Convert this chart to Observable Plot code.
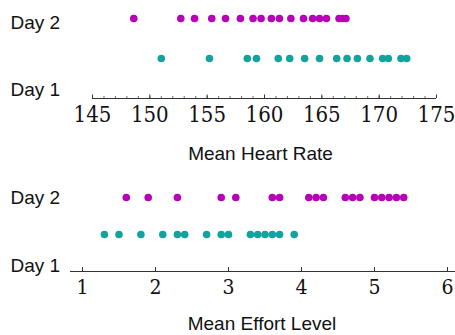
<!DOCTYPE html>
<html>
<head>
<meta charset="utf-8">
<script src="https://cdn.jsdelivr.net/npm/d3@7"></script>
<script src="https://cdn.jsdelivr.net/npm/@observablehq/plot@0.6"></script>
<style>
  html, body { margin: 0; padding: 0; background: #fff; }
  #chart svg { display: block; }
  #chart svg.num-plot text { font-stretch: condensed; }
</style>
</head>
<body>
<div id="chart"></div>
<script>
const days = ["Day 1", "Day 2"];
const hrDay1 = [151.0, 155.2, 158.5, 159.3, 161.2, 162.2, 163.5, 164.8, 166.3, 167.2, 168.1, 169.2, 170.3, 170.8, 171.9, 172.4];
const hrDay2 = [148.6, 152.7, 153.9, 155.4, 156.6, 157.9, 159.0, 159.7, 160.6, 161.3, 162.3, 163.4, 164.2, 164.8, 165.4, 166.5, 166.8, 167.1];
const effDay1 = [1.3, 1.5, 1.8, 2.1, 2.3, 2.4, 2.7, 2.9, 3.0, 3.3, 3.4, 3.5, 3.6, 3.7, 3.9];
const effDay2 = [1.6, 1.9, 2.3, 2.9, 3.1, 3.6, 3.7, 4.1, 4.2, 4.3, 4.6, 4.7, 4.8, 5.0, 5.1, 5.2, 5.3, 5.4];
const hrMajorTicks = [145, 150, 155, 160, 165, 170, 175];
const hrMinorTicks = d3.range(145, 176, 1);
const effTicks = [1, 2, 3, 4, 5, 6];
const titles = ["Mean Heart Rate", "Mean Effort Level"];

const C2 = "#b800b8";
const C1 = "#14a29e";
const SANS = "Liberation Sans";
const SERIF = "DejaVu Serif";

function rows(vals, day) { return vals.map(v => ({value: v, day})); }

const hrData = [...rows(hrDay1, 1), ...rows(hrDay2, 2)];
const effData = [...rows(effDay1, 1), ...rows(effDay2, 2)];

const hrPlot = Plot.plot({
  width: 455, height: 170,
  className: "num-plot",
  marginLeft: 92, marginRight: 19, marginTop: 18, marginBottom: 72,
  x: {domain: [145, 175], axis: null},
  y: {domain: [0, 2], axis: null},
  style: {background: "#fff", overflow: "visible"},
  marks: [
    Plot.ruleY([0], {stroke: "#333", strokeWidth: 1}),
    Plot.ruleX(hrMinorTicks, {x: d => d, y1: 0, y2: 0, insetBottom: 2, stroke: "#444", strokeWidth: 0.8}),
    Plot.ruleX(hrMajorTicks, {x: d => d, y1: 0, y2: 0, insetBottom: 3.5, stroke: "#333", strokeWidth: 1}),
    Plot.text(hrMajorTicks, {x: d => d, y: 0, text: d => String(d), lineAnchor: "top", dy: 8, fontFamily: SERIF, fontSize: 22, fill: "#111"}),
    Plot.dot(hrData, {x: "value", y: "day", r: 3.8, fill: d => d.day === 2 ? C2 : C1, stroke: null}),
    Plot.text([days[1]], {frameAnchor: "left", y: 2, dx: -82, dy: 4, textAnchor: "start", fontFamily: SANS, fontSize: 19, fill: "#111"}),
    Plot.text([days[0]], {frameAnchor: "left", y: 1, dx: -82, dy: 31, textAnchor: "start", fontFamily: SANS, fontSize: 19, fill: "#111"}),
    Plot.text([titles[0]], {frameAnchor: "bottom", lineAnchor: "middle", dx: -4, dy: 55, fontFamily: SANS, fontSize: 19, fill: "#111"})
  ]
});

const effPlot = Plot.plot({
  width: 455, height: 165,
  className: "num-plot",
  marginLeft: 82, marginRight: 8, marginTop: 27, marginBottom: 64,
  x: {domain: [1, 6], axis: null},
  y: {domain: [0, 2], axis: null},
  style: {background: "#fff", overflow: "visible"},
  marks: [
    Plot.ruleY([0], {stroke: "#333", strokeWidth: 1, insetLeft: -12, insetRight: -8}),
    Plot.ruleX(effTicks, {x: d => d, y1: 0, y2: 0, insetBottom: 4, stroke: "#333", strokeWidth: 1}),
    Plot.text(effTicks, {x: d => d, y: 0, text: d => String(d), lineAnchor: "top", dy: 8, fontFamily: SERIF, fontSize: 21, fill: "#111"}),
    Plot.dot(effData, {x: "value", y: "day", r: 3.8, fill: d => d.day === 2 ? C2 : C1, stroke: null}),
    Plot.text([days[1]], {frameAnchor: "left", y: 2, dx: -72, dy: 0, textAnchor: "start", fontFamily: SANS, fontSize: 19, fill: "#111"}),
    Plot.text([days[0]], {frameAnchor: "left", y: 1, dx: -72, dy: 31, textAnchor: "start", fontFamily: SANS, fontSize: 19, fill: "#111"}),
    Plot.text([titles[1]], {frameAnchor: "bottom", lineAnchor: "middle", dx: -3, dy: 52, fontFamily: SANS, fontSize: 19, fill: "#111"})
  ]
});

const el = document.getElementById("chart");
el.appendChild(hrPlot);
el.appendChild(effPlot);
</script>
</body>
</html>
